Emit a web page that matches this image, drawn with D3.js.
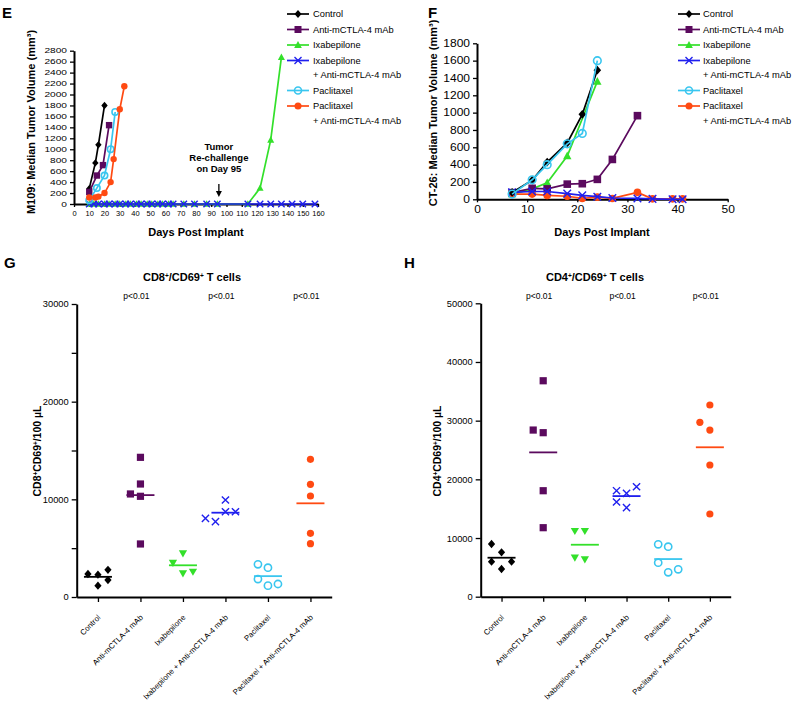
<!DOCTYPE html>
<html><head><meta charset="utf-8">
<script src="https://cdn.jsdelivr.net/npm/d3@7"></script>
<style>
body{margin:0;background:#fff}
svg{font-family:"Liberation Sans",Arial,sans-serif}
</style>
</head><body>
<svg id="c" width="793" height="702"></svg>
<script>
// ---------------- DATA ----------------
const seriesNames = ["Control","Anti-mCTLA-4 mAb","Ixabepilone","Ixabepilone + Anti-mCTLA-4 mAb","Paclitaxel","Paclitaxel + Anti-mCTLA-4 mAb"];
const legendLines = [["Control"],["Anti-mCTLA-4 mAb"],["Ixabepilone"],["Ixabepilone","+ Anti-mCTLA-4 mAb"],["Paclitaxel"],["Paclitaxel","+ Anti-mCTLA-4 mAb"]];

// Panel E: M109 median tumor volume
const m109ControlDays = [10, 14, 16, 20];
const m109Control     = [280, 750, 1080, 1800];
const m109AntiDays    = [10, 15, 19, 23];
const m109Anti        = [220, 520, 710, 1440];
const m109IxaDays     = [10,13,16,20,23,27,30,34,37,41,44,48,51,55,58,62,65,72,79,87,94,114,122,129,136];
const m109Ixa         = [0,0,0,0,0,0,0,0,0,0,0,0,0,0,0,0,0,0,0,0,0,0,290,1170,2680];
const m109ComboDays   = [10,13,16,20,23,27,30,34,37,41,44,48,51,55,58,62,65,72,79,87,94,114,122,129,136,143,150,158];
const m109Combo       = [0,0,0,0,0,0,0,0,0,0,0,0,0,0,0,0,0,0,0,0,0,0,0,0,0,0,0,0];
const m109PacDays     = [10, 15, 20, 24, 27];
const m109Pac         = [70, 290, 520, 1000, 1680];
const m109PacComboDays= [10, 14, 16, 20, 24, 26, 30, 33];
const m109PacCombo    = [120, 120, 135, 200, 400, 820, 1730, 2150];
const m109YTicks = d3.range(0, 2801, 200);
const m109XTicks = d3.range(0, 161, 10);
const rechallengeDay = 95;

// Panel F: CT-26 median tumor volume
const ct26ControlDays = [7, 11, 14, 18, 21, 24];
const ct26Control     = [80, 220, 430, 650, 980, 1490];
const ct26AntiDays    = [7, 11, 14, 18, 21, 24, 27, 32];
const ct26Anti        = [77, 127, 120, 175, 180, 230, 460, 965];
const ct26IxaDays     = [7, 11, 14, 18, 24];
const ct26Ixa         = [60, 120, 190, 500, 1360];
const ct26ComboDays   = [7, 11, 14, 18, 21, 24, 27, 32, 35, 39, 41];
const ct26Combo       = [80, 90, 90, 65, 45, 30, 15, 10, 5, 0, 0];
const ct26PacDays     = [7, 11, 14, 18, 21, 24];
const ct26Pac         = [60, 225, 400, 640, 760, 1600];
const ct26PacComboDays= [7, 11, 14, 18, 21, 24, 27, 32, 35, 39, 41];
const ct26PacCombo    = [60, 60, 45, 35, 10, 25, 10, 80, 5, 5, 5];
const ct26YTicks = d3.range(0, 1801, 200);
const ct26XTicks = d3.range(0, 51, 10);

// Panel G: CD8+/CD69+ per 100 uL
const cd8Control = [2287, 2355, 2780, 1740, 1160];
const cd8Anti    = [14300, 11570, 10310, 10550, 5430];
const cd8Ixa     = [4470, 2425, 3500, 2590];
const cd8Combo   = [9930, 8730, 7710, 8730, 8060];
const cd8Pac     = [3000, 3350, 1160, 1840, 1330];
const cd8PacCombo= [14100, 11540, 10340, 5460, 6520];
const cd8Ticks   = d3.range(0, 30001, 5000);

// Panel H: CD4+/CD69+ per 100 uL
const cd4Control = [7570, 8980, 4720, 5970, 5970];
const cd4Anti    = [36800, 27950, 28400, 18060, 11760];
const cd4Ixa     = [11200, 11200, 6370, 6650];
const cd4Combo   = [17620, 18060, 18740, 15170, 16140];
const cd4Pac     = [8520, 8930, 4160, 5790, 4670];
const cd4PacCombo= [32670, 28400, 29720, 22440, 14090];
const cd4Ticks   = d3.range(0, 50001, 10000);

const pValueLabel = "p<0.01";
const pValueGroups = [1, 3, 5];

// ---------------- STYLE ----------------
const colors = ["#000000", "#5b0a5e", "#33e02a", "#1f1fee", "#39c6ef", "#ff4a12"];
const lineMarkers = ["diamond", "square", "tri", "x", "circle", "dot"];
const dotMarkers  = ["diamond", "square", "triDown", "x", "circle", "dot"];
const fmt = d3.format("d");

const svg = d3.select("#c");

function markerPath(type, r){
  switch(type){
    case "diamond": return `M0,${-r*1.15}L${r},0L0,${r*1.15}L${-r},0Z`;
    case "square":  return `M${-r},${-r}H${r}V${r}H${-r}Z`;
    case "tri":     return `M0,${-r*1.15}L${r*1.1},${r*0.85}L${-r*1.1},${r*0.85}Z`;
    case "triDown": return `M0,${r*1.15}L${r*1.15},${-r*0.85}L${-r*1.15},${-r*0.85}Z`;
    case "x":       return `M${-r},${-r}L${r},${r}M${-r},${r}L${r},${-r}`;
    default:        return d3.symbol(d3.symbolCircle, Math.PI*r*r)();
  }
}
function styleMarker(sel, type, color){
  if (type === "x") sel.attr("fill","none").attr("stroke",color).attr("stroke-width",1.4);
  else if (type === "circle") sel.attr("fill","none").attr("stroke",color).attr("stroke-width",1.6);
  else sel.attr("fill",color).attr("stroke","none");
}
function stretch(sel, k){
  sel.each(function(){
    const w = this.getComputedTextLength();
    if (w > 0) {
      this.setAttribute("textLength", w*k);
      this.setAttribute("lengthAdjust","spacingAndGlyphs");
    }
  });
}
function styleAxis(g, fs, domainW){
  g.attr("font-family", null).attr("font-size", null);
  g.select(".domain").attr("stroke","#000").attr("stroke-width",domainW);
  g.selectAll(".tick line").attr("stroke","#000").attr("stroke-width",1.3);
  g.selectAll(".tick text").attr("fill","#000").attr("font-size",fs);
}
function panelLetter(txt, x, y){
  svg.append("text").attr("x",x).attr("y",y).attr("font-size",15).attr("font-weight","bold").text(txt);
}
function rotLabel(x, yc, parts, fs){
  const t = svg.append("text").attr("transform",`translate(${x},${yc}) rotate(-90)`)
    .attr("text-anchor","middle").attr("font-size",fs).attr("font-weight","bold");
  parts.forEach(p => {
    if (p.sup) t.append("tspan").attr("baseline-shift","super").attr("font-size",fs*0.6).text(p.t);
    else t.append("tspan").text(p.t);
  });
  return t;
}

// ---------------- LINE PANELS ----------------
function linePanel(cfg){
  const x = d3.scaleLinear().domain(cfg.xDomain).range(cfg.xRange);
  const y = d3.scaleLinear().domain(cfg.yDomain).range(cfg.yRange);
  const g = svg.append("g");
  const ay = g.append("g").attr("transform",`translate(${cfg.xRange[0]},0)`)
    .call(d3.axisLeft(y).tickValues(cfg.yTicks).tickFormat(fmt).tickSize(4).tickSizeOuter(0).tickPadding(3));
  styleAxis(ay, cfg.tickFs, 2);
  stretch(ay.selectAll(".tick text"), cfg.tickStretch);
  const ax = g.append("g").attr("transform",`translate(0,${cfg.yRange[0]})`)
    .call(d3.axisBottom(x).tickValues(cfg.xTicks).tickFormat(fmt).tickSize(3).tickSizeOuter(0).tickPadding(cfg.xPad));
  styleAxis(ax, cfg.xTickFs, 2);
  stretch(ax.selectAll(".tick text"), cfg.xStretch);

  cfg.order.forEach(i => {
    const s = cfg.series[i];
    const pts = s.days.map((d,k) => [d, s.vals[k]]);
    g.append("path").datum(pts)
      .attr("d", d3.line().x(d=>x(d[0])).y(d=>y(d[1])))
      .attr("fill","none").attr("stroke",colors[i]).attr("stroke-width",1.7);
    const m = g.selectAll(null).data(pts).join("path")
      .attr("transform", d => `translate(${x(d[0])},${y(d[1])})`)
      .attr("d", markerPath(lineMarkers[i], cfg.r));
    styleMarker(m, lineMarkers[i], colors[i]);
  });

  svg.append("text").attr("x", cfg.xLabelX).attr("y", 236).attr("text-anchor","middle")
    .attr("font-size",11).attr("font-weight","bold").text("Days Post Implant");

  let yy = 14;
  legendLines.forEach((lines, i) => {
    const lg = svg.append("g");
    lg.append("line").attr("x1",cfg.legX0).attr("x2",cfg.legX1).attr("y1",yy).attr("y2",yy)
      .attr("stroke",colors[i]).attr("stroke-width",1.7);
    const m = lg.append("path").attr("transform",`translate(${(cfg.legX0+cfg.legX1)/2},${yy})`)
      .attr("d", markerPath(lineMarkers[i], 3.5));
    styleMarker(m, lineMarkers[i], colors[i]);
    lines.forEach((ln, k) => {
      lg.append("text").attr("x", cfg.legTx).attr("y", yy + k*14.5 + 3.3)
        .attr("font-size", 9.3).text(ln);
    });
    yy += 15.5 + (lines.length-1)*14.5;
  });
  return {x, y, g};
}

const E = linePanel({
  xDomain:[0,160], xRange:[74,318], yDomain:[0,2800], yRange:[204,50.7],
  yTicks:m109YTicks, xTicks:m109XTicks, tickFs:7, xTickFs:6.5, tickStretch:1.45, xStretch:1.15, xPad:4, r:3.2,
  order:[2,3,0,1,4,5],
  series:[
    {days:m109ControlDays, vals:m109Control},
    {days:m109AntiDays, vals:m109Anti},
    {days:m109IxaDays, vals:m109Ixa},
    {days:m109ComboDays, vals:m109Combo},
    {days:m109PacDays, vals:m109Pac},
    {days:m109PacComboDays, vals:m109PacCombo}],
  xLabelX:196, legX0:287, legX1:309, legTx:313
});
{
  const ax = E.x(rechallengeDay);
  ["Tumor","Re-challenge","on Day 95"].forEach((t,k) => {
    svg.append("text").attr("x",ax).attr("y",149.5 + k*11.3).attr("text-anchor","middle")
      .attr("font-size",9.5).attr("font-weight","bold").text(t);
  });
  svg.append("line").attr("x1",ax).attr("x2",ax).attr("y1",184).attr("y2",192).attr("stroke","#000").attr("stroke-width",1.3);
  svg.append("path").attr("d",`M${ax-3},${191}L${ax+3},${191}L${ax},${197}Z`).attr("fill","#000");
}
rotLabel(35, 122, [{t:"M109: Median Tumor Volume (mm³)"}], 11);
panelLetter("E", 2, 18);

const F = linePanel({
  xDomain:[0,50], xRange:[477,727.7], yDomain:[0,1800], yRange:[199.3,43.3],
  yTicks:ct26YTicks, xTicks:ct26XTicks, tickFs:10, xTickFs:10, tickStretch:1.2, xStretch:1.2, xPad:4, r:3.8,
  order:[2,1,5,3,0,4],
  series:[
    {days:ct26ControlDays, vals:ct26Control},
    {days:ct26AntiDays, vals:ct26Anti},
    {days:ct26IxaDays, vals:ct26Ixa},
    {days:ct26ComboDays, vals:ct26Combo},
    {days:ct26PacDays, vals:ct26Pac},
    {days:ct26PacComboDays, vals:ct26PacCombo}],
  xLabelX:602, legX0:678, legX1:700, legTx:703
});
rotLabel(437, 113, [{t:"CT-26: Median Tumor Volume (mm³)"}], 11);
panelLetter("F", 428, 18);

// ---------------- DOT PLOT PANELS ----------------
function dotPanel(cfg){
  const x = d3.scalePoint().domain(d3.range(6)).range(cfg.xRange).padding(0.5);
  const y = d3.scaleLinear().domain(cfg.yDomain).range(cfg.yRange);
  const g = svg.append("g");
  const ay = g.append("g").attr("transform",`translate(${cfg.xRange[0]},0)`)
    .call(d3.axisLeft(y).tickValues(cfg.ticks).tickSize(5).tickSizeOuter(0).tickPadding(3)
      .tickFormat(d => d % cfg.labelEvery === 0 ? fmt(d) : ""));
  styleAxis(ay, 9.3, 2);
  const ax = g.append("g").attr("transform",`translate(0,${cfg.yRange[0]})`)
    .call(d3.axisBottom(x).tickSize(5).tickSizeOuter(0).tickFormat(""));
  styleAxis(ax, 8, 2);

  seriesNames.forEach((name, i) => {
    const cx = x(i);
    g.append("text").attr("transform",`translate(${cx+3},618) rotate(-45)`)
      .attr("text-anchor","end").attr("font-size",7.8).text(name);
  });

  cfg.groups.forEach((vals, i) => {
    const cx = x(i);
    const placed = [];
    const pts = vals.map(v => {
      const py = y(v);
      const s = [0,-1,1,-2,2].find(s => !placed.some(p => p.s === s && Math.abs(p.py - py) < 10));
      placed.push({s, py});
      return {v, py, s};
    });
    const m = g.selectAll(null).data(pts).join("path")
      .attr("transform", d => `translate(${cx + d.s*10},${d.py})`)
      .attr("d", markerPath(dotMarkers[i], 3.6));
    styleMarker(m, dotMarkers[i], colors[i]);
    g.append("line").attr("x1",cx-14).attr("x2",cx+14)
      .attr("y1",y(d3.mean(vals))).attr("y2",y(d3.mean(vals)))
      .attr("stroke",colors[i]).attr("stroke-width",1.8);
  });

  pValueGroups.forEach(i => {
    svg.append("text").attr("x", x(i) - 4).attr("y", 299).attr("text-anchor","middle")
      .attr("font-size",8.5).text(pValueLabel);
  });
  const t = svg.append("text").attr("x",cfg.titleX).attr("y",281).attr("text-anchor","middle")
    .attr("font-size",11).attr("font-weight","bold");
  t.append("tspan").text(cfg.cd);
  t.append("tspan").attr("baseline-shift","super").attr("font-size",6.5).text("+");
  t.append("tspan").text("/CD69");
  t.append("tspan").attr("baseline-shift","super").attr("font-size",6.5).text("+");
  t.append("tspan").text(" T cells");
  rotLabel(cfg.yLabX, 451, [{t:cfg.cd},{t:"+",sup:true},{t:"CD69"},{t:"+",sup:true},{t:"/100 µL"}], 10.5);
}

dotPanel({xRange:[76.7,331.7], yDomain:[0,30000], yRange:[597,304], ticks:cd8Ticks, labelEvery:10000,
  groups:[cd8Control, cd8Anti, cd8Ixa, cd8Combo, cd8Pac, cd8PacCombo], titleX:192, cd:"CD8", yLabX:41});
panelLetter("G", 4, 268);

dotPanel({xRange:[480.7,730.7], yDomain:[0,50000], yRange:[596.7,303.3], ticks:cd4Ticks, labelEvery:10000,
  groups:[cd4Control, cd4Anti, cd4Ixa, cd4Combo, cd4Pac, cd4PacCombo], titleX:595, cd:"CD4", yLabX:441});
panelLetter("H", 404, 268);
</script>
</body></html>
